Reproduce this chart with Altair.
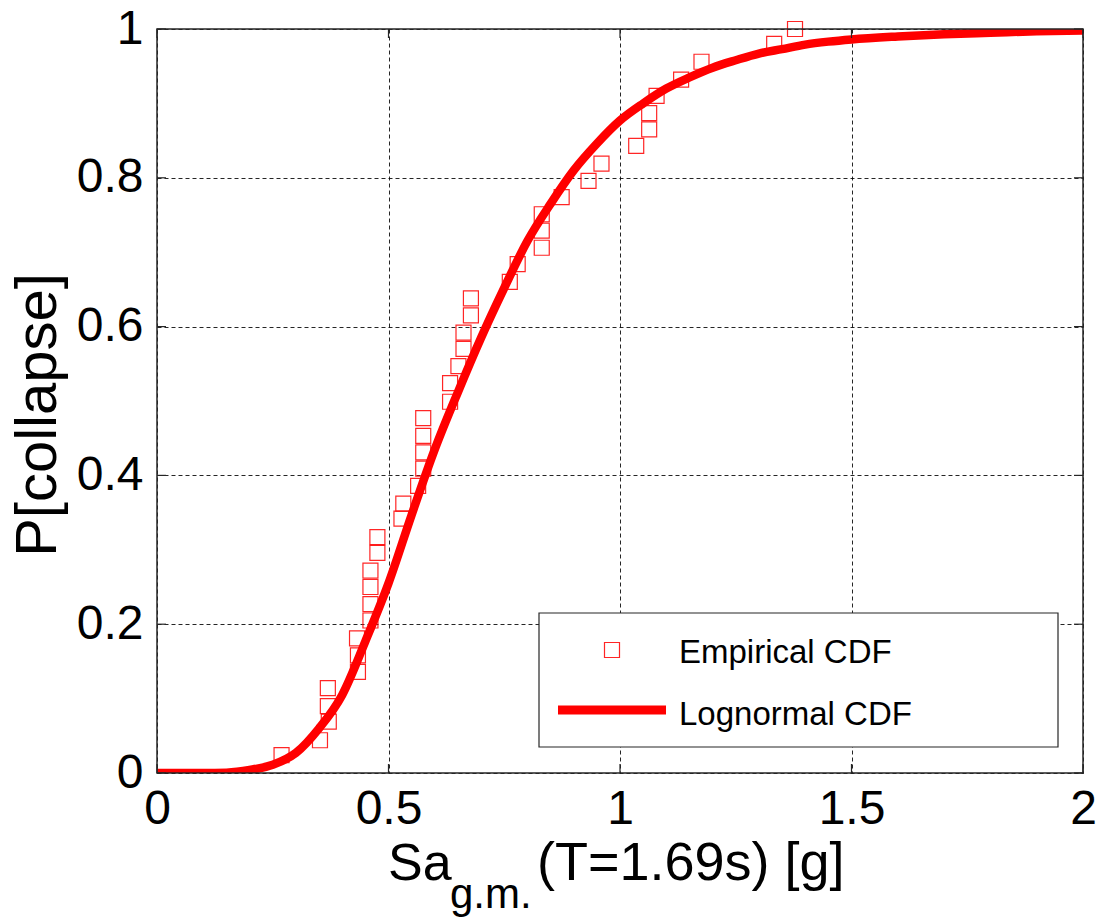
import altair as alt
import pandas as pd

# Empirical CDF of collapse intensities (sorted Sa values and their plotting positions)
sa_empirical = [0.269, 0.352, 0.371, 0.369, 0.369, 0.434, 0.434, 0.432, 0.461, 0.461,
                0.461, 0.461, 0.476, 0.476, 0.528, 0.532, 0.564, 0.575, 0.575, 0.575,
                0.575, 0.633, 0.633, 0.651, 0.662, 0.662, 0.678, 0.678, 0.762, 0.779,
                0.831, 0.831, 0.831, 0.874, 0.932, 0.960, 1.035, 1.063, 1.063, 1.079,
                1.132, 1.176, 1.333, 1.378]
p_empirical = [0.024, 0.044, 0.069, 0.090, 0.114, 0.136, 0.158, 0.181, 0.205, 0.227,
               0.250, 0.272, 0.296, 0.317, 0.342, 0.362, 0.386, 0.409, 0.431, 0.453,
               0.477, 0.499, 0.524, 0.547, 0.570, 0.592, 0.615, 0.638, 0.660, 0.684,
               0.706, 0.729, 0.751, 0.774, 0.796, 0.819, 0.843, 0.865, 0.887, 0.910,
               0.932, 0.956, 0.980, 1.000]

# Fitted lognormal fragility curve, sampled along the Sa axis
sa_fit = [0.0, 0.05, 0.10, 0.15, 0.20, 0.25, 0.30, 0.35, 0.40, 0.45, 0.50, 0.55, 0.60,
          0.65, 0.70, 0.75, 0.80, 0.85, 0.90, 0.95, 1.00, 1.05, 1.10, 1.15, 1.20, 1.25,
          1.30, 1.35, 1.40, 1.45, 1.50, 1.60, 1.70, 1.80, 1.90, 2.00]
p_fit = [0.0, 0.0, 0.0, 0.0005, 0.004, 0.011, 0.027, 0.060, 0.105, 0.177, 0.255, 0.347,
         0.435, 0.512, 0.585, 0.652, 0.715, 0.765, 0.810, 0.846, 0.877, 0.900, 0.920,
         0.935, 0.948, 0.958, 0.967, 0.973, 0.979, 0.983, 0.986, 0.990, 0.993, 0.995,
         0.997, 0.998]

x_ticks = [0, 0.5, 1, 1.5, 2]
y_ticks = [0, 0.2, 0.4, 0.6, 0.8, 1]

W, H = 926, 744
FONT = "Liberation Sans"
RED = "#ff0000"
FRAME = "#262626"

emp_df = pd.DataFrame({"sa": sa_empirical, "p": p_empirical})
fit_df = pd.DataFrame({"sa": sa_fit, "p": p_fit})
xt_df = pd.DataFrame({"sa": x_ticks})
yt_df = pd.DataFrame({"p": y_ticks})

x_scale = alt.Scale(domain=[0, 2], nice=False, zero=False)
y_scale = alt.Scale(domain=[0, 1], nice=False, zero=False)

common_axis = dict(
    format="~g", labelFont=FONT, labelFontSize=48, labelColor="black",
    labelFlush=False, labelOverlap=False, tickSize=0, domain=False,
    grid=True, gridDash=[4, 3], gridColor="#000000", gridOpacity=0.85, gridWidth=1,
    title=None,
)
x_axis = alt.Axis(values=x_ticks, labelPadding=12, **common_axis)
y_axis = alt.Axis(values=y_ticks, labelPadding=14, **common_axis)


def X(field):
    return alt.X(f"{field}:Q", scale=x_scale, axis=x_axis)


def Y(field):
    return alt.Y(f"{field}:Q", scale=y_scale, axis=y_axis)


fit_line = alt.Chart(fit_df).mark_line(
    color=RED, strokeWidth=8.5, interpolate="monotone", clip=True
).encode(x=X("sa"), y=Y("p"))

emp_points = alt.Chart(emp_df).mark_point(
    shape="square", size=225, filled=False, color=RED, strokeWidth=1.2, opacity=0.85
).encode(x=X("sa"), y=Y("p"))

# inward tick marks on all four sides
tick_len = 9
ticks_bottom = alt.Chart(xt_df).mark_rule(color=FRAME, strokeWidth=1.2).encode(
    x=X("sa"), y=alt.value(H), y2=alt.value(H - tick_len))
ticks_top = alt.Chart(xt_df).mark_rule(color=FRAME, strokeWidth=1.2).encode(
    x=X("sa"), y=alt.value(0), y2=alt.value(tick_len))
ticks_left = alt.Chart(yt_df).mark_rule(color=FRAME, strokeWidth=1.2).encode(
    y=Y("p"), x=alt.value(0), x2=alt.value(tick_len))
ticks_right = alt.Chart(yt_df).mark_rule(color=FRAME, strokeWidth=1.2).encode(
    y=Y("p"), x=alt.value(W), x2=alt.value(W - tick_len))

one = pd.DataFrame({"k": [0]})

frame = alt.Chart(one).mark_rect(fill=None, stroke=FRAME, strokeWidth=1.5).encode(
    x=alt.value(0), x2=alt.value(W), y=alt.value(0), y2=alt.value(H))

# legend box in the lower right corner
legend_box = alt.Chart(one).mark_rect(fill="white", stroke=FRAME, strokeWidth=1.2).encode(
    x=alt.value(382), x2=alt.value(901), y=alt.value(584), y2=alt.value(718))
legend_square = alt.Chart(one).mark_point(
    shape="square", size=225, filled=False, color=RED, strokeWidth=1.2, opacity=0.85
).encode(x=alt.value(455), y=alt.value(621))
legend_line = alt.Chart(one).mark_rule(color=RED, strokeWidth=9).encode(
    x=alt.value(401), x2=alt.value(509), y=alt.value(681))


def label(text, x, y, size, align="left", angle=0):
    return alt.Chart(pd.DataFrame({"t": [text]})).mark_text(
        font=FONT, fontSize=size, color="black", align=align,
        baseline="alphabetic", angle=angle
    ).encode(text="t:N", x=alt.value(x), y=alt.value(y))


legend_text1 = label("Empirical CDF", 522, 634, 33)
legend_text2 = label("Lognormal CDF", 522, 696, 33)

# axis titles: Sa with a g.m. subscript, and the rotated probability label
title_sa = label("Sa", 231, 851, 52)
title_sub = label("g.m.", 293, 879, 42)
title_rest = label("(T=1.69s) [g]", 380, 851, 54)
title_y = label("P[collapse]", -101, 386, 58, align="center", angle=270)

chart = alt.layer(
    fit_line, emp_points,
    ticks_bottom, ticks_top, ticks_left, ticks_right,
    frame,
    legend_box, legend_square, legend_line, legend_text1, legend_text2,
    title_sa, title_sub, title_rest, title_y,
).properties(
    width=W, height=H,
    autosize=alt.AutoSizeParams(type="none"),
    padding={"left": 157, "top": 29, "right": 19, "bottom": 149},
    background="white",
).configure_view(stroke=None)

chart.save("out.html", embed_options={"renderer": "svg", "actions": False})
